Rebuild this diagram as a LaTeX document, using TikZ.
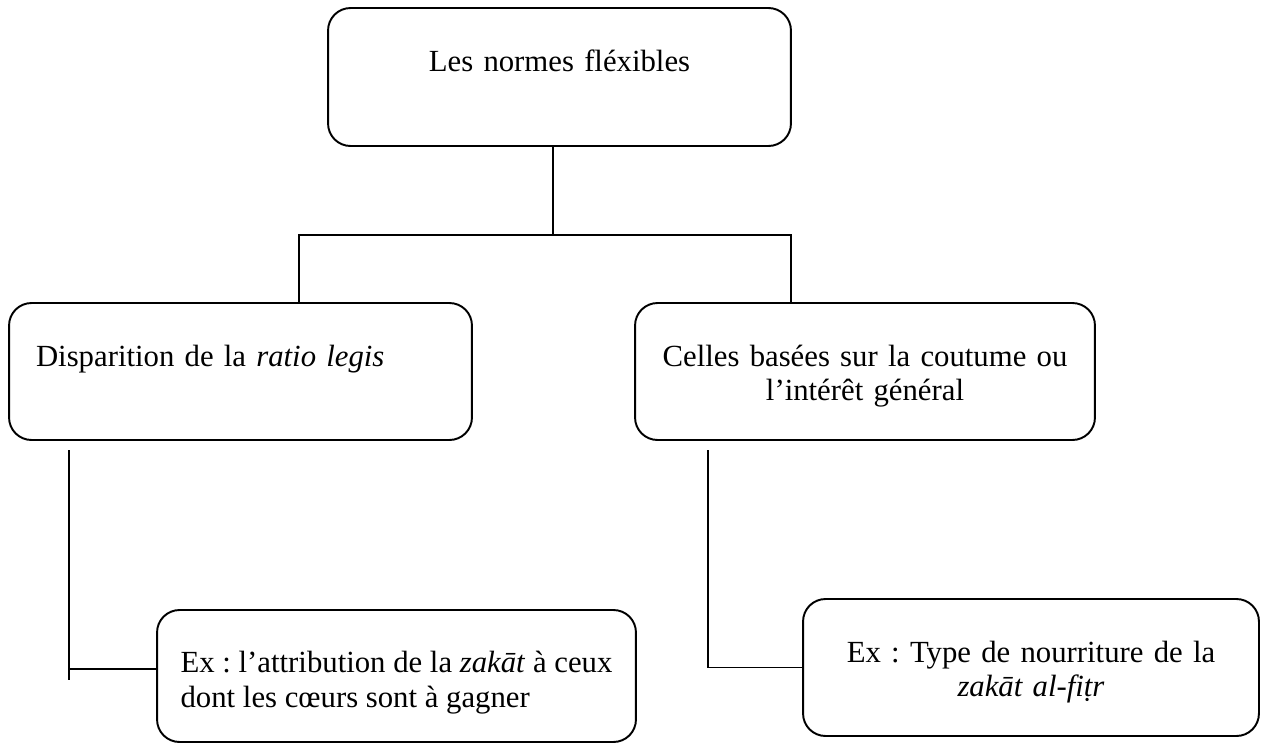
\documentclass[tikz,border=0pt]{standalone}
\usepackage{fontspec}
\setmainfont{Liberation Serif}
\frenchspacing
\begin{document}
\begin{tikzpicture}[x=0.02cm, y=-0.02cm,
        box/.style={draw, line width=1.1pt, rounded corners=0.45cm, inner ysep=0pt, inner xsep=0.54cm,
            text height=1.26cm, font=\fontsize{17.5pt}{19.4pt}\selectfont},
        link/.style={line width=0.8pt}]
        \useasboundingbox (0,0) rectangle (1265,744);

        % Top box
        \node[box, text width=8.18cm, align=center, text depth=1.5cm] (norms) at (559.5,77) {Les normes fléxibles};

        % Second level
        \node[box, text width=8.18cm, align=left, text depth=1.48cm] (disp) at (240.5,371.5) {Disparition de la \textit{ratio legis}};
        \node[box, text width=8.12cm, align=center, text depth=1.48cm] (celles) at (865,371.5) {Celles basées sur la coutume ou\\ l’intérêt général};

        % Examples
        \node[box, minimum width=9.58cm, inner xsep=0.44cm, align=left, text height=1.94cm, text depth=0.7cm] (exzakat) at (396.5,676) {Ex : l’attribution de la \textit{zakāt} à ceux\\ dont les cœurs sont à gagner};
        \node[box, text width=8.04cm, align=center, text depth=1.48cm] (exfitr) at (1031,667.5) {Ex : Type de nourriture de la\\ \textit{zakāt al-fiṭr}};

        % Fork under the top box
        \coordinate (fork) at (553,235);
        \coordinate (forkl) at (299,235);
        \coordinate (forkr) at (791,235);
        \draw[link] (norms.south -| fork) -- (fork);
        \draw[link] (forkl |- disp.north) -- (forkl) -- (forkr) -- (forkr |- celles.north);

        % Links to the examples
        \coordinate (dispfoot) at (69,450);
        \coordinate (dispend) at (69,680);
        \coordinate (tee) at (69,669);
        \coordinate (cellesfoot) at (708,450);
        \draw[link] (dispfoot) -- (dispend);
        \draw[link] (tee) -- (tee -| exzakat.west);
        \draw[link] (cellesfoot) |- (exfitr.west);
    \end{tikzpicture}
\end{document}
